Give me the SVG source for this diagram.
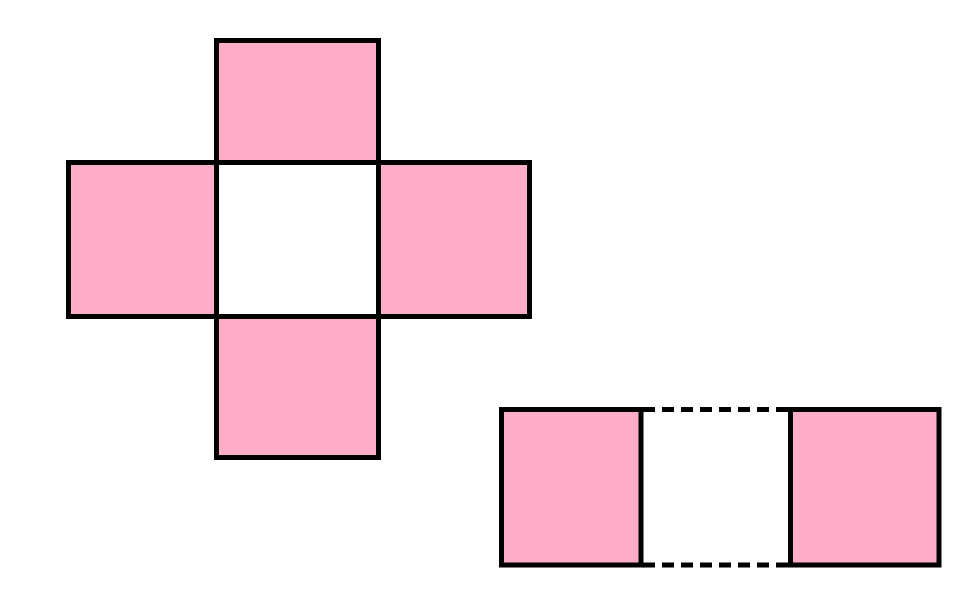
<svg xmlns="http://www.w3.org/2000/svg" width="978" height="613" viewBox="0 0 978 613">
<style>
.pink{fill:#feadc8;stroke:#000;stroke-width:5}
.hole{fill:#fff;stroke:#000;stroke-width:5}
.dash{fill:none;stroke:#000;stroke-width:5;stroke-dasharray:12 7}
</style>
<rect width="978" height="613" fill="#fff"/>
<g id="cross">
<g id="center"><rect class="hole" x="216.5" y="162.5" width="162" height="154"/></g>
<g id="top"><rect class="pink" x="216.5" y="40.5" width="162" height="122"/></g>
<g id="left"><rect class="pink" x="68.5" y="162.5" width="148" height="154"/></g>
<g id="right"><rect class="pink" x="378.5" y="162.5" width="151" height="154"/></g>
<g id="bottom"><rect class="pink" x="216.5" y="316.5" width="162" height="141"/></g>
</g>
<g id="strip">
<g id="strip-left"><rect class="pink" x="501.5" y="409.5" width="139.5" height="155.5"/></g>
<g id="strip-right"><rect class="pink" x="790.5" y="409.5" width="148.5" height="155.5"/></g>
<g id="strip-middle">
<line class="dash" x1="643" y1="409.5" x2="788" y2="409.5"/>
<line class="dash" x1="643" y1="565" x2="788" y2="565"/>
</g>
</g>
</svg>
